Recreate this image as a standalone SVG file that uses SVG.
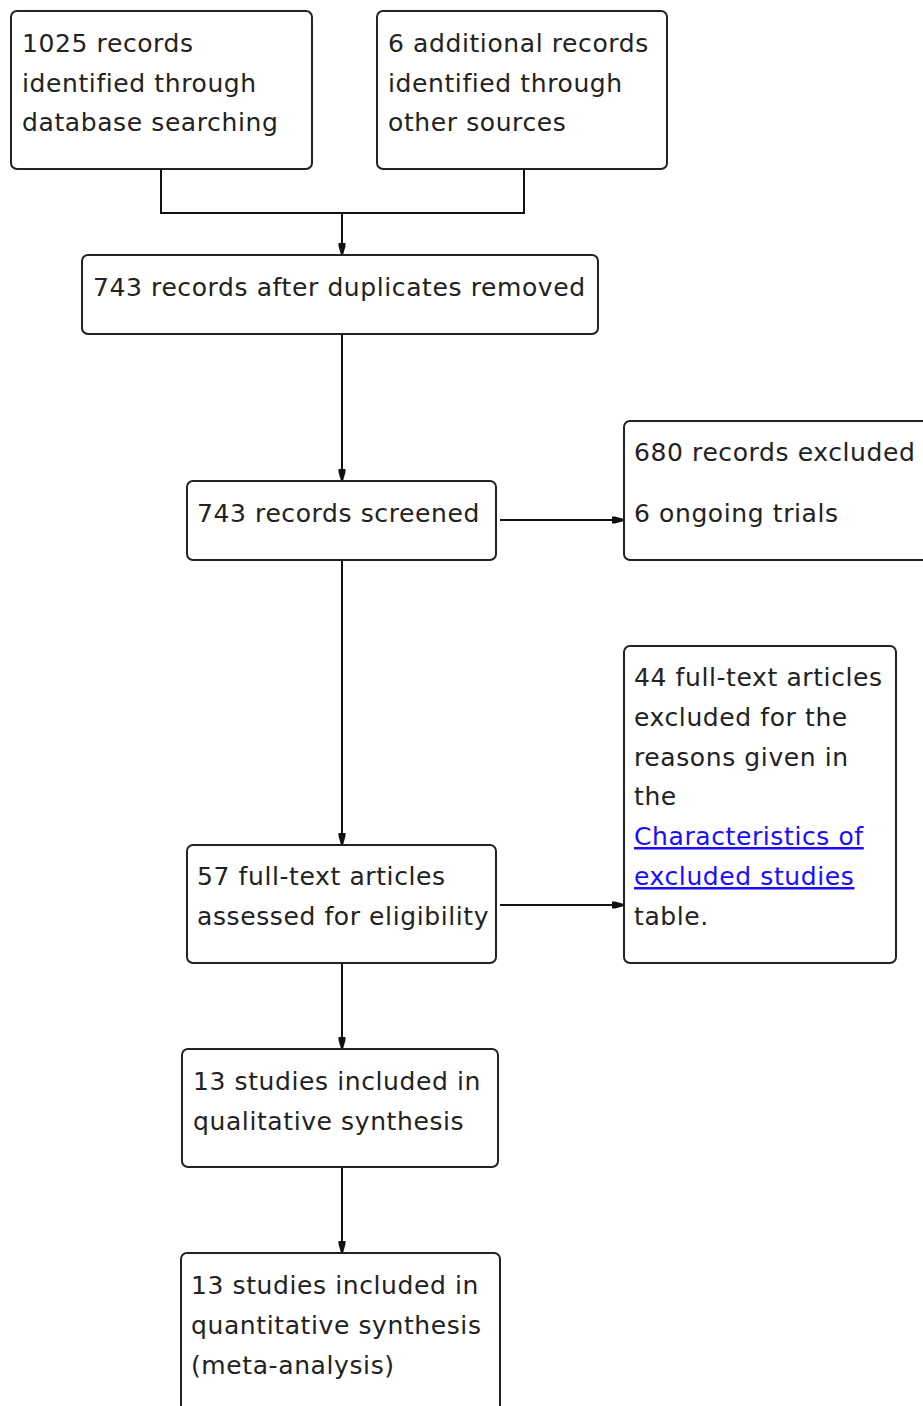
<svg xmlns="http://www.w3.org/2000/svg" width="923" height="1406" viewBox="0 0 923 1406">
<defs>
<style>
.box{fill:#fff;stroke:#222;stroke-width:2}
.t{font-family:"DejaVu Sans",Verdana,sans-serif;font-size:25px;fill:#222;letter-spacing:0.6px}
.link{fill:#1a0dff;text-decoration:underline}
.c{fill:none;stroke:#111;stroke-width:2}
</style>
<marker id="ah" viewBox="0 0 12 8" refX="12" refY="4" markerWidth="12" markerHeight="8" markerUnits="userSpaceOnUse" orient="auto">
<path d="M0,0.5 L3,0.5 L12,3 L12,5 L3,7.5 L0,7.5 Z" fill="#111"/>
</marker>
</defs>
<rect width="923" height="1406" fill="#fff"/>
<g id="connectors">
<path class="c" d="M161,169 V213 H524 V169"/>
<path class="c" d="M342,213 V255" marker-end="url(#ah)"/>
<path class="c" d="M342,334 V481" marker-end="url(#ah)"/>
<path class="c" d="M500,520 H624" marker-end="url(#ah)"/>
<path class="c" d="M342,560 V845" marker-end="url(#ah)"/>
<path class="c" d="M500,905 H624" marker-end="url(#ah)"/>
<path class="c" d="M342,963 V1049" marker-end="url(#ah)"/>
<path class="c" d="M342,1167 V1253" marker-end="url(#ah)"/>
</g>
<g id="n1">
<rect class="box" x="11" y="11" width="301" height="158" rx="6"/>
<text class="t" x="22" y="52">1025 records</text>
<text class="t" x="22" y="92">identified through</text>
<text class="t" x="22" y="131">database searching</text>
</g>
<g id="n2">
<rect class="box" x="377" y="11" width="290" height="158" rx="6"/>
<text class="t" x="388" y="52">6 additional records</text>
<text class="t" x="388" y="92">identified through</text>
<text class="t" x="388" y="131">other sources</text>
</g>
<g id="n3">
<rect class="box" x="82" y="255" width="516" height="79" rx="6"/>
<text class="t" x="93" y="296">743 records after duplicates removed</text>
</g>
<g id="n4">
<rect class="box" x="187" y="481" width="309" height="79" rx="6"/>
<text class="t" x="197" y="522">743 records screened</text>
</g>
<g id="n5">
<rect class="box" x="624" y="421" width="310" height="139" rx="6"/>
<text class="t" x="634" y="461">680 records excluded</text>
<text class="t" x="634" y="522">6 ongoing trials</text>
</g>
<g id="n6">
<rect class="box" x="187" y="845" width="309" height="118" rx="6"/>
<text class="t" x="197" y="885">57 full-text articles</text>
<text class="t" x="197" y="925">assessed for eligibility</text>
</g>
<g id="n7">
<rect class="box" x="624" y="646" width="272" height="317" rx="6"/>
<text class="t" x="634" y="686">44 full-text articles</text>
<text class="t" x="634" y="726">excluded for the</text>
<text class="t" x="634" y="766">reasons given in</text>
<text class="t" x="634" y="805">the</text>
<text class="t link" x="634" y="845">Characteristics of</text>
<text class="t link" x="634" y="885">excluded studies</text>
<text class="t" x="634" y="925">table.</text>
</g>
<g id="n8">
<rect class="box" x="182" y="1049" width="316" height="118" rx="6"/>
<text class="t" x="193" y="1090">13 studies included in</text>
<text class="t" x="193" y="1130">qualitative synthesis</text>
</g>
<g id="n9">
<rect class="box" x="181" y="1253" width="319" height="170" rx="6"/>
<text class="t" x="191" y="1294">13 studies included in</text>
<text class="t" x="191" y="1334">quantitative synthesis</text>
<text class="t" x="191" y="1374">(meta-analysis)</text>
</g>
</svg>
